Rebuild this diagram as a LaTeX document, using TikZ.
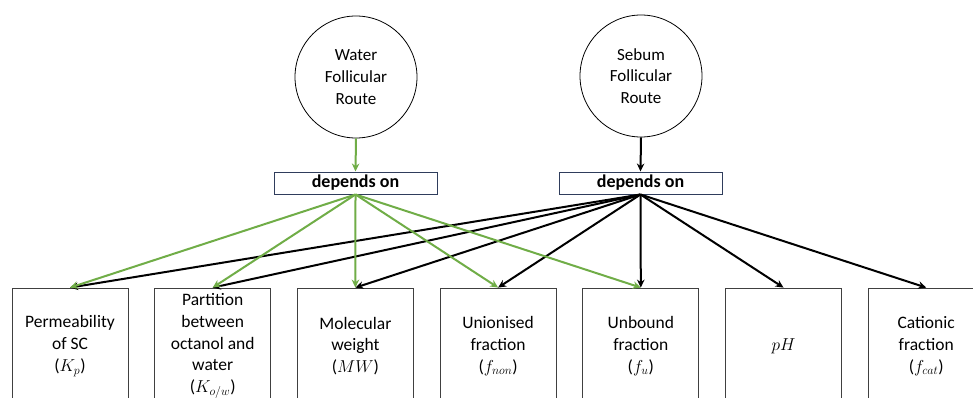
\documentclass[tikz,border=0pt]{standalone}
\usepackage{fontspec}
\setmainfont{Carlito}
\usetikzlibrary{arrows.meta}
\definecolor{leafgreen}{HTML}{70AD47}
\definecolor{navyline}{HTML}{2F3D5C}
\definecolor{boxgray}{HTML}{404040}
\begin{document}
\begin{tikzpicture}[x=1pt,y=-1pt,
  route/.style={circle,draw=black,line width=0.8pt,minimum size=122pt,inner sep=0pt,align=center,font=\fontsize{17}{21.8}\selectfont},
  dep/.style={draw=navyline,line width=1pt,minimum width=163pt,minimum height=22pt,inner sep=0pt,font=\bfseries\fontsize{18}{18}\selectfont},
  factor/.style={draw=boxgray,line width=0.8pt,minimum width=116pt,minimum height=116pt,inner sep=0pt,align=center,font=\fontsize{17.5}{21.8}\selectfont},
  garrow/.style={draw=leafgreen,line width=2pt,-{Stealth[length=8pt,width=7.5pt]}},
  barrow/.style={draw=black,line width=2pt,-{Stealth[length=8pt,width=7.5pt]}}]
\useasboundingbox (0,0) rectangle (973,398);
\clip (0,0) rectangle (973,398);
\node[route] (w) at (356,77) {Water\\Follicular\\Route};
\node[route] (s) at (641,76) {Sebum\\Follicular\\Route};
\node[dep] (d1) at (355.5,183) {depends on};
\node[dep] (d2) at (640.5,183) {depends on};
\node[factor] (f1) at (70,346) {Permeability\\of SC\\($K_p$)};
\node[factor] (f2) at (212.7,346) {Partition\\between\\octanol and\\water\\($K_{o/w}$)};
\node[factor] (f3) at (355.4,346) {Molecular\\weight\\($MW$)};
\node[factor] (f4) at (498.1,346) {Unionised\\fraction\\($f_{non}$)};
\node[factor] (f5) at (640.8,346) {Unbound\\fraction\\($f_u$)};
\node[factor] (f6) at (783.5,346) {$pH$};
\node[factor] (f7) at (926.2,346) {Cationic\\fraction\\($f_{cat}$)};
\draw[barrow] (s.south) -- (d2.north);
\foreach \t in {f1,f2,f3,f4,f5,f6,f7} \draw[barrow] (d2.south) -- (\t.north);
\draw[garrow] (w.south) -- (d1.north);
\foreach \t in {f1,f2,f3,f4,f5} \draw[garrow] (d1.south) -- (\t.north);
\end{tikzpicture}
\end{document}
